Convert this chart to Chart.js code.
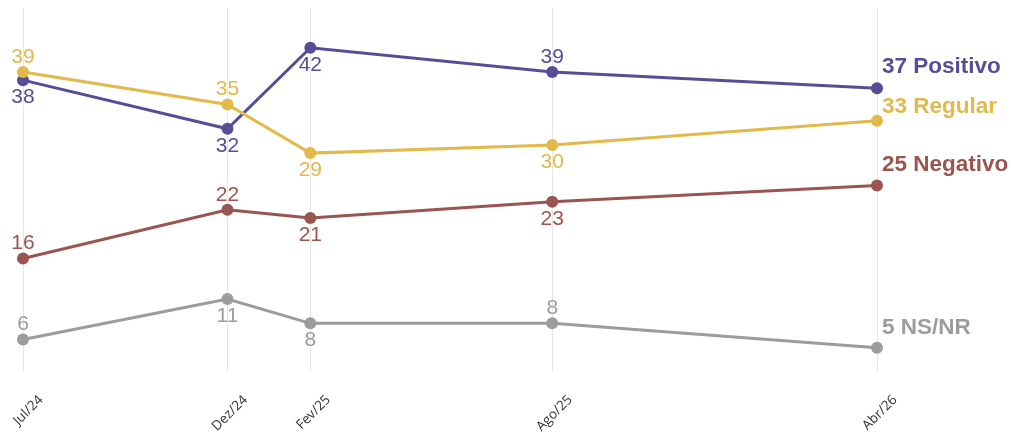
<!DOCTYPE html>
<html>
<head>
<meta charset="utf-8">
<script src="https://cdn.jsdelivr.net/npm/chart.js@4/dist/chart.umd.min.js"></script>
<style>
  html, body { margin: 0; padding: 0; background: #fff; }
  #wrap { width: 1011px; height: 433px; }
</style>
</head>
<body>
<div id="wrap"><canvas id="chart"></canvas></div>
<script>
var surveyDates = ['2024-07-01', '2024-12-01', '2025-02-01', '2025-08-01', '2026-04-01'];
var dateLabels = ['Jul/24', 'Dez/24', 'Fev/25', 'Ago/25', 'Abr/26'];

var positivo = [38, 32, 42, 39, 37];
var regular  = [39, 35, 29, 30, 33];
var negativo = [16, 22, 21, 23, 25];
var nsnr     = [6, 11, 8, 8, 5];

var seriesNames = ['Positivo', 'Regular', 'Negativo', 'NS/NR'];

// where each value label sits: a = above, b = below, e = end label
var labelPlace = [
    ['b', 'b', 'b', 'a', 'e'],
    ['a', 'a', 'b', 'b', 'e'],
    ['a', 'a', 'b', 'b', 'e'],
    ['a', 'b', 'b', 'a', 'e']
];
var endLift = [21, 14, 21, 20];

var colors = ['#554e97', '#e3b94b', '#9a5550', '#9c9c9c'];

// days since first survey
var day0 = Date.parse(surveyDates[0]);
var days = surveyDates.map(function(d) {
    return Math.round((Date.parse(d) - day0) / 86400000);
});

function points(vals) {
    var out = [];
    for (var i = 0; i < vals.length; i++) {
        out.push({x: days[i], y: vals[i]});
    }
    return out;
}

function makeSet(name, vals, idx, order) {
    return {
        label: name,
        data: points(vals),
        borderColor: colors[idx],
        backgroundColor: colors[idx],
        borderWidth: 3,
        pointRadius: 6,
        pointHoverRadius: 6,
        pointBorderWidth: 0,
        tension: 0,
        clip: false,
        order: order
    };
}

var valueLabels = {
    id: 'valueLabels',
    afterDatasetsDraw: function(chart) {
        var ctx = chart.ctx;
        ctx.save();
        chart.data.datasets.forEach(function(ds, di) {
            var meta = chart.getDatasetMeta(di);
            meta.data.forEach(function(pt, i) {
                var v = ds.data[i].y;
                var place = labelPlace[di][i];
                ctx.fillStyle = colors[di];
                ctx.textBaseline = 'middle';
                if (place === 'e') {
                    ctx.font = 'bold 22.5px "Liberation Sans", Arial, sans-serif';
                    ctx.textAlign = 'left';
                    ctx.fillText(v + ' ' + seriesNames[di], pt.x + 5, pt.y - endLift[di]);
                } else {
                    ctx.font = '21px "Liberation Sans", Arial, sans-serif';
                    ctx.textAlign = 'center';
                    var dy = place === 'a' ? -15 : 17;
                    ctx.fillText(String(v), pt.x, pt.y + dy);
                }
            });
        });
        ctx.restore();
    }
};

new Chart(document.getElementById('chart'), {
    type: 'line',
    data: {
        datasets: [
            makeSet('Positivo', positivo, 0, 1),
            makeSet('Regular', regular, 1, 0),
            makeSet('Negativo', negativo, 2, 2),
            makeSet('NS/NR', nsnr, 3, 3)
        ]
    },
    options: {
        responsive: true,
        maintainAspectRatio: false,
        animation: false,
        layout: {
            padding: {left: 23, right: 134, top: 8, bottom: 0}
        },
        plugins: {
            legend: {display: false},
            tooltip: {enabled: false}
        },
        scales: {
            x: {
                type: 'linear',
                min: 0,
                max: days[days.length - 1],
                afterBuildTicks: function(scale) {
                    scale.ticks = days.map(function(d) { return {value: d}; });
                },
                afterFit: function(scale) {
                    scale.paddingLeft = 0;
                    scale.paddingRight = 0;
                    scale.height = 61;
                },
                grid: {
                    color: '#e6e6e6',
                    lineWidth: 1,
                    drawTicks: false
                },
                border: {display: false},
                ticks: {
                    autoSkip: false,
                    minRotation: 45,
                    maxRotation: 45,
                    labelOffset: 18,
                    padding: 20,
                    color: '#333',
                    font: {family: '"Open Sans", sans-serif', size: 13.5},
                    callback: function(value) {
                        var i = days.indexOf(value);
                        return i >= 0 ? dateLabels[i] : '';
                    }
                }
            },
            y: {
                display: false,
                min: 2,
                max: 46.9
            }
        }
    },
    plugins: [valueLabels]
});
</script>
</body>
</html>
